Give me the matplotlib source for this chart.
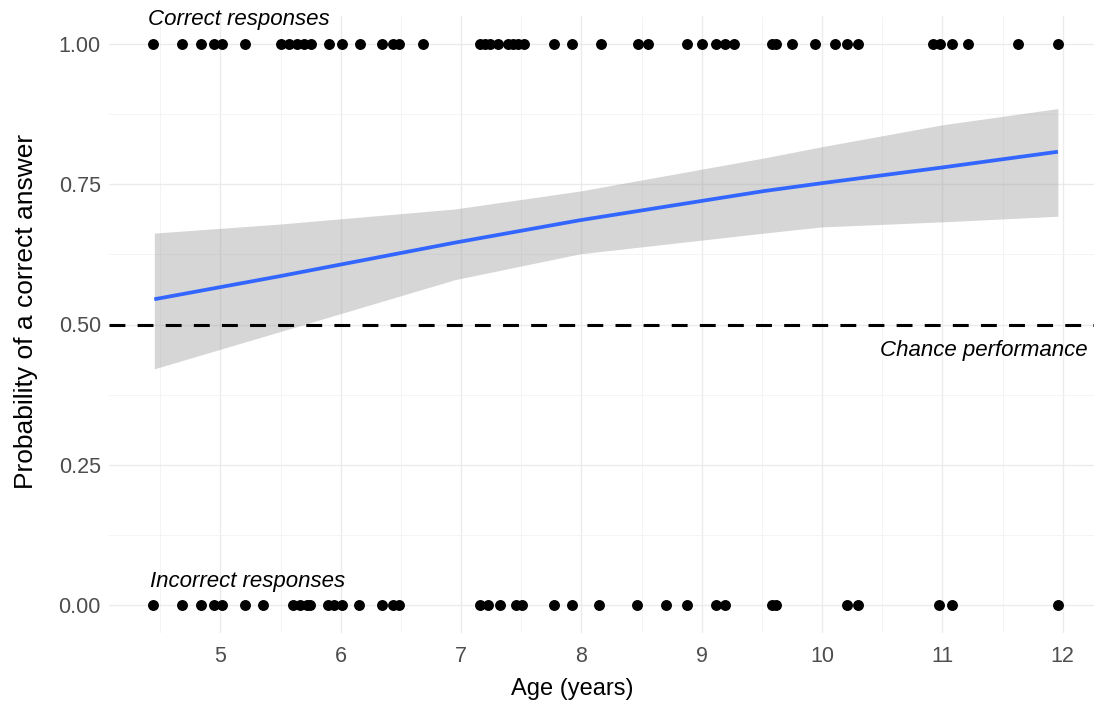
import numpy as np
import matplotlib
matplotlib.use("Agg")
import matplotlib.pyplot as plt
from matplotlib.ticker import MultipleLocator

# Ages (years) of correct and incorrect responses
age_correct = [4.44, 4.68, 4.84, 4.95, 5.01, 5.20, 5.50, 5.57, 5.64, 5.69, 5.75,
               5.90, 6.01, 6.16, 6.34, 6.43, 6.48, 6.68, 7.16, 7.20, 7.24, 7.31,
               7.39, 7.43, 7.47, 7.52, 7.77, 7.92, 8.16, 8.47, 8.55, 8.88, 9.00,
               9.12, 9.19, 9.27, 9.58, 9.62, 9.75, 9.94, 10.11, 10.21, 10.30,
               10.92, 10.98, 11.08, 11.21, 11.63, 11.96]
age_incorrect = [4.44, 4.68, 4.84, 4.95, 5.01, 5.20, 5.35, 5.60, 5.66, 5.72, 5.74,
                 5.89, 5.94, 6.01, 6.15, 6.34, 6.43, 6.48, 7.16, 7.22, 7.32, 7.46,
                 7.51, 7.77, 7.92, 8.15, 8.46, 8.70, 8.88, 9.12, 9.19, 9.58, 9.62,
                 10.21, 10.30, 10.97, 11.08, 11.96]

# Fitted logistic curve and its confidence band
fit_age = [4.45, 5.49, 6.95, 7.99, 9.52, 10.0, 11.0, 11.96]
fit_prob = [0.545, 0.586, 0.646, 0.686, 0.738, 0.752, 0.780, 0.808]
ci_upper = [0.663, 0.679, 0.706, 0.738, 0.797, 0.817, 0.856, 0.885]
ci_lower = [0.421, 0.487, 0.580, 0.626, 0.663, 0.674, 0.683, 0.693]

x_ticks = [5, 6, 7, 8, 9, 10, 11, 12]
y_ticks = [0.0, 0.25, 0.5, 0.75, 1.0]
y_ticklabels = ["0.00", "0.25", "0.50", "0.75", "1.00"]
chance = 0.5

plt.rcParams["font.family"] = ["Liberation Sans", "DejaVu Sans"]
fig = plt.figure(figsize=(10.94, 7.04), dpi=100)
W_px, H_px = 1094, 704
left, right, top, bottom = 109.2, 1101.8, 16, 633
ax = fig.add_axes([left / W_px, 1 - bottom / H_px, (right - left) / W_px, (bottom - top) / H_px])
ax.set_xlim(4.075, 12.325)
ax.set_ylim(-0.05, 1.05)
for s in ax.spines.values():
    s.set_visible(False)

ax.set_xticks(x_ticks)
ax.set_yticks(y_ticks)
ax.set_yticklabels(y_ticklabels)
ax.xaxis.set_minor_locator(MultipleLocator(0.5))
ax.yaxis.set_minor_locator(MultipleLocator(0.125))
ax.grid(True, which="major", color="#EBEBEB", linewidth=1.0, zorder=0)
ax.grid(True, which="minor", color="#F3F3F3", linewidth=0.6, zorder=0)
ax.tick_params(which="both", length=0)
ax.tick_params(axis="y", labelsize=15.5, labelcolor="#4D4D4D", pad=6)
ax.tick_params(axis="x", labelsize=15.5, labelcolor="#4D4D4D", pad=9)
ax.set_axisbelow(True)

ax.fill_between(fit_age, ci_lower, ci_upper, color="#999999", alpha=0.4, linewidth=0, zorder=2)
ax.plot(fit_age, fit_prob, color="#3366FF", linewidth=2.7, zorder=3, solid_capstyle="butt")
ax.axhline(chance, color="black", linewidth=2.2, linestyle=(0, (5.2, 4.0)), zorder=3)

ax.scatter(age_correct, [1.0] * len(age_correct), s=62, color="black", zorder=4, linewidths=0)
ax.scatter(age_incorrect, [0.0] * len(age_incorrect), s=62, color="black", zorder=4, linewidths=0)

ax.text(4.40, 1.043, "Correct responses", style="italic", fontsize=16, ha="left", va="center")
ax.text(4.41, 0.041, "Incorrect responses", style="italic", fontsize=16, ha="left", va="center")
ax.text(12.21, 0.4545, "Chance performance", style="italic", fontsize=16, ha="right", va="center")

ax.set_xlabel("Age (years)", fontsize=17)
ax.set_ylabel("Probability of a correct answer", fontsize=19)
# place axis titles at the measured positions (pixel -> axes fraction)
ax.xaxis.set_label_coords((572 - left) / (right - left), (bottom - 689) / (bottom - top))
ax.yaxis.set_label_coords((26 - left) / (right - left), (bottom - 311) / (bottom - top))
ax.xaxis.label.set_va("center")
ax.yaxis.label.set_va("center")

fig.savefig("out.png", dpi=100, facecolor="white")
